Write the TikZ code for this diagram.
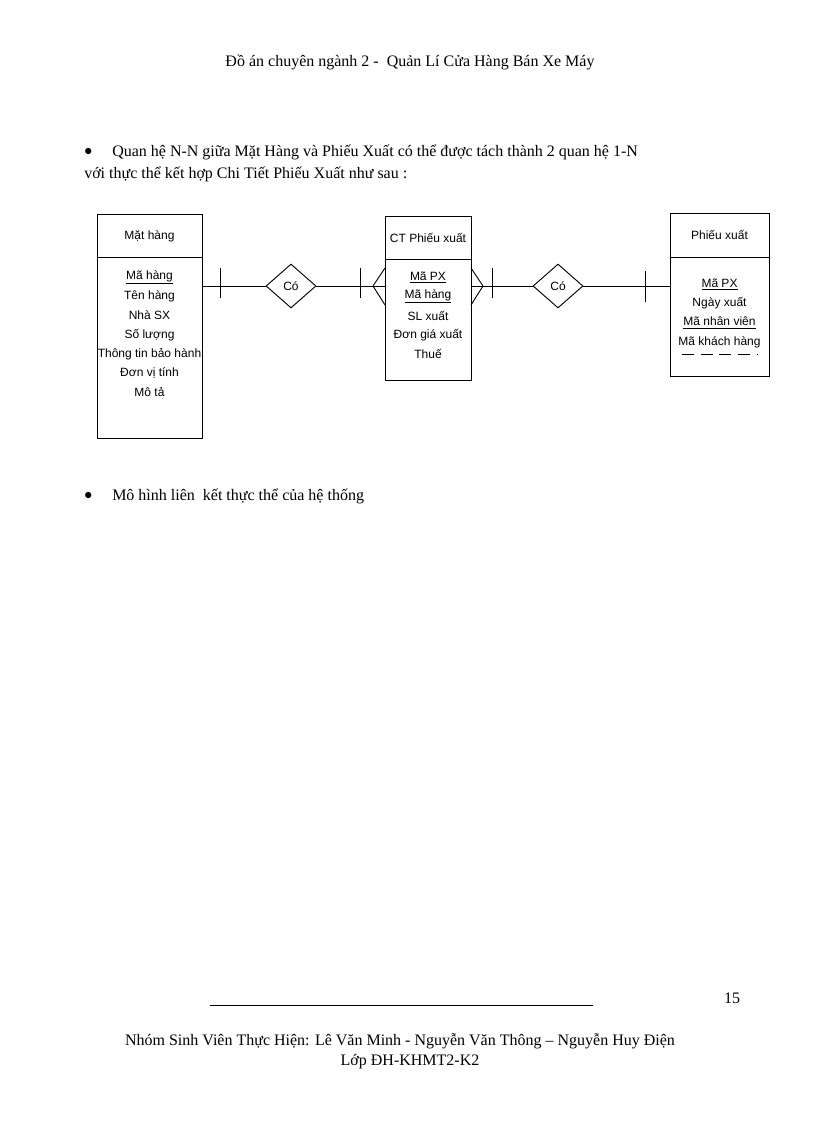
\documentclass[tikz,border=0pt]{standalone}
\usepackage{fontspec}
\setmainfont{Liberation Serif}
\newfontfamily\dsans{Liberation Sans}
\usetikzlibrary{shapes.geometric}
\begin{document}
\begin{tikzpicture}[x=0.75pt,y=-0.75pt,
  txt/.style={font=\fontsize{12}{14}\selectfont,inner sep=0},
  att/.style={font=\dsans\fontsize{9}{10}\selectfont,inner sep=0},
  ln/.style={line width=0.7pt},
  rel/.style={diamond,draw,line width=0.7pt,minimum width=50\pgflinewidth,aspect=1.14,inner sep=0,font=\dsans\fontsize{9}{10}\selectfont}]
\useasboundingbox (0,0) rectangle (816,1123);
\node[txt] (hdr) at (410,62) {Đồ án chuyên ngành 2 -\ \ Quản Lí Cửa Hàng Bán Xe Máy};
\node[txt,anchor=west] (b1) at (84,152) {$\bullet$};
\node[txt,anchor=west] (t1) at (112,152) {Quan hệ N-N giữa Mặt Hàng và Phiếu Xuất có thể được tách thành 2 quan hệ 1-N};
\node[txt,anchor=west] (t2) at (84,174) {với thực thể kết hợp Chi Tiết Phiếu Xuất như sau :};
\node[txt,anchor=west] (b2) at (84,496) {$\bullet$};
\node[txt,anchor=west] (t3) at (112,496) {Mô hình liên\ \ kết thực thể của hệ thống};
% entities
\draw[ln] (97,214) rectangle (202,438); \draw[ln] (97,257) -- (202,257);
\draw[ln] (385,216) rectangle (471,380); \draw[ln] (385,259) -- (471,259);
\draw[ln] (670,213) rectangle (769,376); \draw[ln] (670,257) -- (769,257);
\node[att] (e1) at (149.5,236) {Mặt hàng};
\node[att] (e2) at (428,238) {CT Phiếu xuất};
\node[att] (e3) at (719.5,235) {Phiếu xuất};
\foreach \t [count=\i] in {\underline{Mã hàng},Tên hàng,Nhà SX,Số lượng,Thông tin bảo hành,Đơn vị tính,Mô tả}
  \node[att] (a\i) at (149.5,258+19.2*\i) {\t};
\foreach \t [count=\i] in {\underline{Mã PX},\underline{Mã hàng},SL xuất,Đơn giá xuất,Thuế}
  \node[att] (c\i) at (428,258+19.2*\i) {\t};
\foreach \t [count=\i] in {\underline{Mã PX},Ngày xuất,\underline{Mã nhân viên},Mã khách hàng}
  \node[att] (p\i) at (719.5,265+19.3*\i) {\t};
\draw[ln,dash pattern=on 9pt off 5pt] (682,354) -- (757,354);
% relations
\node[rel,minimum width=50*0.75pt,minimum height=44*0.75pt] (r1) at (291,286) {Có};
\node[rel,minimum width=50*0.75pt,minimum height=44*0.75pt] (r2) at (558,286) {Có};
\coordinate (m1) at (202,286); \coordinate (m2) at (385,286);
\coordinate (m3) at (471,286); \coordinate (m4) at (670,286);
\draw[ln] (m1) -- (r1.west); \draw[ln] (r1.east) -- (m2);
\draw[ln] (m3) -- (r2.west); \draw[ln] (r2.east) -- (m4);
\draw[ln] (220,268) -- (220,298);
\draw[ln] (360,268) -- (360,298);
\draw[ln] (492,268) -- (492,298);
\draw[ln] (645,271) -- (645,302);
\draw[ln] (385,268) -- (373,286) -- (385,305);
\draw[ln] (471,268) -- (483,286) -- (471,305);
% footer
\draw[line width=0.6pt] (210,1005) -- (593,1005);
\node[txt] (pg) at (732,998) {15};
\node[txt] (f1) at (400,1041) {Nhóm Sinh Viên Thực Hiện: Lê Văn Minh - Nguyễn Văn Thông -- Nguyễn Huy Điện};
\node[txt] (f2) at (410,1062) {Lớp ĐH-KHMT2-K2};
\end{tikzpicture}
\end{document}
